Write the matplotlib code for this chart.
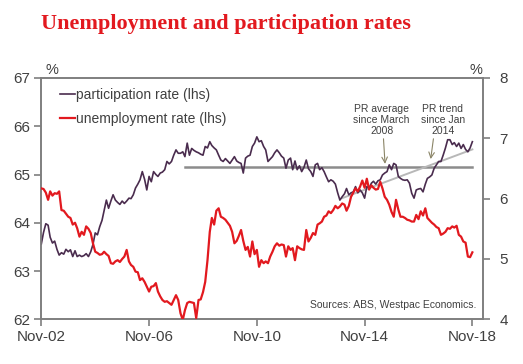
import matplotlib
matplotlib.use("Agg")
import matplotlib.pyplot as plt
import matplotlib.dates as mdates
import pandas as pd

# ---------------- data (monthly, Nov 2002 - Nov 2018) ----------------
start_month = "2002-11-01"

participation = [
    # 2002 Nov-Dec
    63.56, 63.80,
    # 2003
    63.98, 63.95, 63.70, 63.58, 63.62, 63.45, 63.33, 63.38, 63.35, 63.45, 63.40, 63.44,
    # 2004
    63.30, 63.42, 63.30, 63.33, 63.30, 63.32, 63.36, 63.30, 63.40, 63.55, 63.79, 63.75,
    # 2005
    63.92, 64.05, 64.25, 64.47, 64.30, 64.45, 64.58, 64.47, 64.42, 64.38, 64.45, 64.40,
    # 2006
    64.45, 64.51, 64.50, 64.58, 64.72, 64.80, 64.89, 65.06, 64.90, 64.68, 64.96, 64.85,
    # 2007
    65.06, 65.00, 64.96, 65.03, 65.05, 65.10, 65.27, 65.22, 65.27, 65.40, 65.51, 65.44,
    # 2008
    65.44, 65.47, 65.37, 65.65, 65.40, 65.54, 65.50, 65.47, 65.45, 65.42, 65.40, 65.58,
    # 2009
    65.55, 65.68, 65.60, 65.55, 65.51, 65.40, 65.30, 65.27, 65.33, 65.28, 65.23, 65.30,
    # 2010
    65.37, 65.28, 65.25, 65.23, 65.03, 65.34, 65.38, 65.40, 65.58, 65.65, 65.78, 65.68,
    # 2011
    65.70, 65.58, 65.51, 65.27, 65.32, 65.37, 65.45, 65.51, 65.45, 65.38, 65.34, 65.13,
    # 2012
    65.30, 65.34, 65.10, 65.28, 65.10, 65.18, 65.06, 65.15, 65.30, 65.12, 65.06, 64.96,
    # 2013
    65.20, 65.23, 65.10, 65.14, 65.06, 64.95, 64.85, 64.89, 64.86, 64.80, 64.62, 64.47,
    # 2014
    64.54, 64.60, 64.71, 64.58, 64.62, 64.64, 64.75, 64.62, 64.68, 64.62, 64.51, 64.75,
    # 2015
    64.72, 64.82, 64.86, 64.80, 64.87, 64.89, 64.99, 65.03, 65.06, 65.20, 65.10, 65.23,
    # 2016
    65.20, 64.96, 64.92, 64.89, 64.88, 64.89, 64.82, 64.61, 64.51, 64.68, 64.70, 64.71,
    # 2017
    64.64, 64.80, 64.92, 64.95, 64.99, 65.13, 65.20, 65.27, 65.27, 65.40, 65.55, 65.72,
    # 2018 Jan-Nov
    65.72, 65.62, 65.66, 65.58, 65.65, 65.54, 65.62, 65.52, 65.47, 65.55, 65.68,
]

unemployment = [
    # 2002 Nov-Dec
    6.17, 6.16,
    # 2003
    6.10, 5.98, 6.12, 6.05, 6.09, 6.08, 6.12, 5.81, 5.80, 5.75, 5.70, 5.68,
    # 2004
    5.57, 5.60, 5.51, 5.37, 5.45, 5.40, 5.54, 5.50, 5.43, 5.26, 5.12, 5.10,
    # 2005
    5.07, 5.08, 5.12, 5.08, 5.05, 4.93, 4.92, 4.96, 4.98, 4.95, 5.00, 5.04,
    # 2006
    5.15, 4.96, 4.90, 4.87, 4.79, 4.78, 4.65, 4.68, 4.62, 4.54, 4.46, 4.54,
    # 2007
    4.55, 4.60, 4.46, 4.38, 4.32, 4.29, 4.30, 4.27, 4.24, 4.32, 4.40, 4.32,
    # 2008
    4.10, 3.99, 4.15, 4.27, 4.29, 4.28, 4.27, 4.02, 4.32, 4.33, 4.45, 4.62,
    # 2009
    4.98, 5.45, 5.68, 5.57, 5.80, 5.84, 5.70, 5.68, 5.65, 5.60, 5.55, 5.45,
    # 2010
    5.26, 5.30, 5.38, 5.48, 5.30, 5.15, 5.20, 5.04, 5.29, 5.08, 5.15, 4.87,
    # 2011
    4.98, 4.93, 4.96, 4.93, 5.04, 5.12, 5.21, 5.26, 5.22, 5.24, 5.23, 5.04,
    # 2012
    5.21, 5.15, 5.18, 4.98, 5.21, 5.18, 5.16, 5.15, 5.48, 5.29, 5.35, 5.43,
    # 2013
    5.40, 5.57, 5.59, 5.62, 5.70, 5.72, 5.79, 5.76, 5.81, 5.88, 5.84, 5.87,
    # 2014
    5.92, 5.90, 5.80, 5.88, 6.03, 6.10, 6.17, 6.12, 6.20, 6.30, 6.18, 6.33,
    # 2015
    6.15, 6.22, 6.18, 6.15, 6.16, 6.28, 6.17, 6.03, 5.98, 5.90, 5.78, 5.70,
    # 2016
    5.98, 5.82, 5.70, 5.70, 5.68, 5.65, 5.64, 5.62, 5.62, 5.73, 5.66, 5.79,
    # 2017
    5.72, 5.84, 5.68, 5.64, 5.60, 5.57, 5.53, 5.51, 5.40, 5.42, 5.45, 5.51,
    # 2018 Jan-Nov
    5.50, 5.54, 5.52, 5.55, 5.40, 5.37, 5.29, 5.27, 5.04, 5.03, 5.11,
]

pr_average = 65.16                 # PR average since March 2008
pr_average_dates = ["2008-03-01", "2018-11-01"]
pr_trend = [64.51, 65.52]          # PR trend since Jan 2014
pr_trend_dates = ["2014-01-01", "2018-11-01"]

left_ticks = [62, 63, 64, 65, 66, 67]
right_ticks = [4, 5, 6, 7, 8]
x_tick_dates = ["2002-11-01", "2006-11-01", "2010-11-01", "2014-11-01", "2018-11-01"]

title = "Unemployment and participation rates"
label_pr = "participation rate (lhs)"
label_ur = "unemployment rate (lhs)"
note_avg = "PR average\nsince March\n2008"
note_trend = "PR trend\nsince Jan\n2014"
source = "Sources: ABS, Westpac Economics."

# ---------------- styling ----------------
PURPLE = "#4a2c4e"
RED = "#e2191f"
AXIS = "#7f7f7f"
TEXT = "#404040"
plt.rcParams["font.family"] = ["Liberation Sans", "DejaVu Sans"]

dates = pd.date_range(start_month, periods=len(participation), freq="MS")

fig = plt.figure(figsize=(5.23, 3.64), dpi=100)
ax = fig.add_axes([0.079, 0.1228, 0.8445, 0.663])
ax2 = ax.twinx()

ax.plot(pd.to_datetime(pr_average_dates), [pr_average, pr_average], color="#8c8c8c", lw=1.8, zorder=2)
ax.plot(pd.to_datetime(pr_trend_dates), pr_trend, color="#b8b8b8", lw=1.4, zorder=2)
l1, = ax.plot(dates, participation, color=PURPLE, lw=1.2, zorder=3, label=label_pr)
l2, = ax2.plot(dates, unemployment, color=RED, lw=1.6, zorder=3, label=label_ur)

ax.set_ylim(62, 67)
ax2.set_ylim(4, 8)
ax.set_yticks(left_ticks)
ax2.set_yticks(right_ticks)
ax.set_xlim(pd.Timestamp("2002-11-01"), pd.Timestamp("2019-03-25"))
ax.set_xticks(pd.to_datetime(x_tick_dates))
ax.xaxis.set_major_formatter(mdates.DateFormatter("%b-%y"))

for a in (ax, ax2):
    for s in a.spines.values():
        s.set_color(AXIS)
        s.set_linewidth(1.2)
    a.tick_params(colors=TEXT, labelsize=11, length=5, width=1.2, color=AXIS, pad=3)
ax2.tick_params(axis="y", pad=7)
ax2.spines["top"].set_visible(True)

ax.text(0.01, 1.005, "%", transform=ax.transAxes, fontsize=10.5, color=TEXT, ha="left", va="bottom")
ax.text(0.998, 1.005, "%", transform=ax.transAxes, fontsize=10.5, color=TEXT, ha="right", va="bottom")

leg = ax.legend(handles=[l1, l2], loc="upper left", bbox_to_anchor=(0.02, 1.0), frameon=False,
                fontsize=10, handlelength=1.1, handletextpad=0.05, labelspacing=0.75,
                borderaxespad=0.3)
for t in leg.get_texts():
    t.set_color(TEXT)

arrow_col = "#8a8466"
ax.text(pd.Timestamp("2015-06-20"), 65.80, note_avg, ha="center", va="bottom", fontsize=7.5,
        color=TEXT, linespacing=1.12)
ax.text(pd.Timestamp("2017-09-25"), 65.80, note_trend, ha="center", va="bottom", fontsize=7.5,
        color=TEXT, linespacing=1.12)
ax.annotate("", xy=(pd.Timestamp("2015-08-05"), 65.22), xytext=(pd.Timestamp("2015-07-15"), 65.74),
            arrowprops=dict(arrowstyle="->", color=arrow_col, lw=0.8, shrinkA=0, shrinkB=0))
ax.annotate("", xy=(pd.Timestamp("2017-04-15"), 65.32), xytext=(pd.Timestamp("2017-05-22"), 65.74),
            arrowprops=dict(arrowstyle="->", color=arrow_col, lw=0.8, shrinkA=0, shrinkB=0))

ax.text(0.985, 0.04, source, transform=ax.transAxes, ha="right", va="bottom", fontsize=7.5, color=TEXT)

fig.text(0.079, 0.935, title, fontsize=16, fontweight="bold", color="#e2191f",
         family=["Liberation Serif", "DejaVu Serif"], ha="left", va="center")

fig.savefig("out.png", dpi=100)
